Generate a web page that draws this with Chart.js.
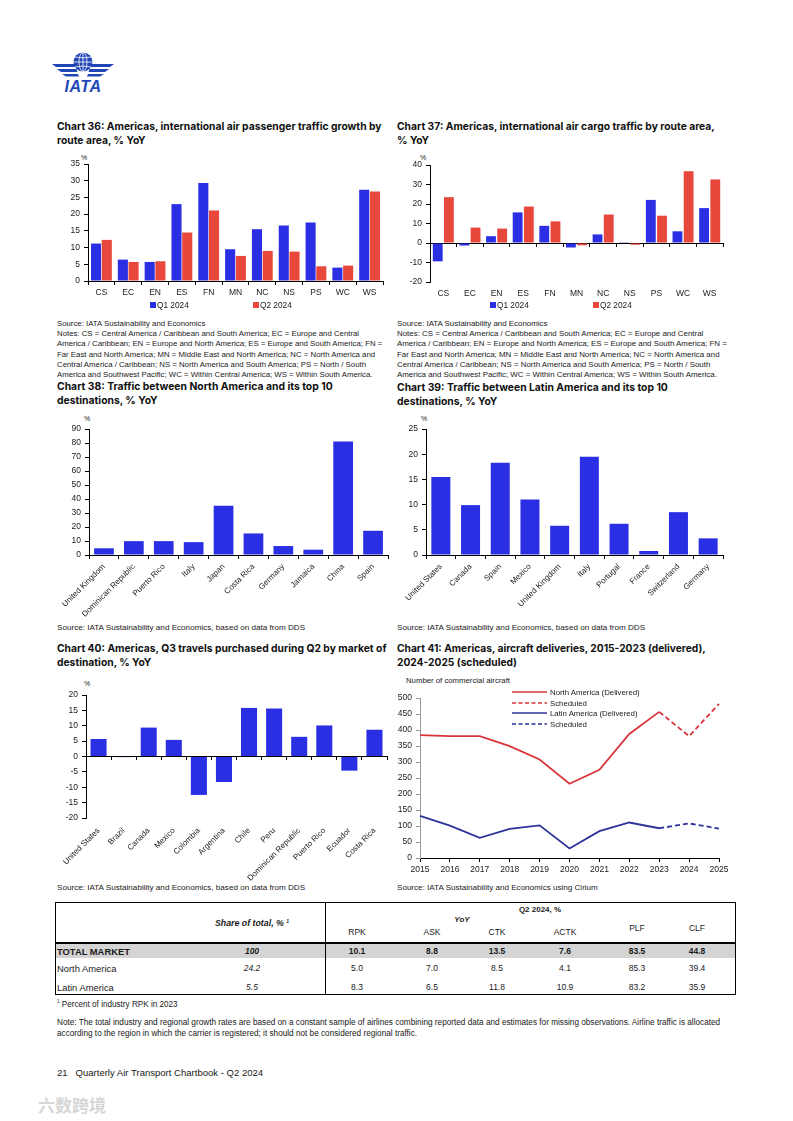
<!DOCTYPE html>
<html>
<head>
<meta charset="utf-8">
<script src="https://cdn.jsdelivr.net/npm/chart.js@4.4.1/dist/chart.umd.min.js"></script>
<style>
  body { margin:0; width:793px; height:1121px; background:#fff; position:relative; overflow:hidden;
         font-family:"Liberation Sans", Arial, sans-serif; color:#1a1a1a; }
  .abs { position:absolute; white-space:nowrap; }
  .title { font-family:Inter, "Liberation Sans", sans-serif; font-weight:700; font-size:10px; color:#111; }
  .note { font-size:7.2px; }
  canvas { position:absolute; }
  .cell { position:absolute; white-space:nowrap; font-size:8px; transform:translate(-50%,-50%); }
  .lcell { position:absolute; white-space:nowrap; font-size:8px; transform:translateY(-50%); }
</style>
</head>
<body>

<svg class="abs" style="left:50px;top:51px" width="66" height="44" viewBox="0 0 66 44">
  <g fill="#2146b5">
    <circle cx="33" cy="11" r="9.5"/>
    <path d="M2 13 L25 13 L26 16 L6 16 Z"/>
    <path d="M7 18 L26.5 18 L27.5 21 L11 21 Z"/>
    <path d="M12 23 L28 23 L29 25.5 L16 25.5 Z"/>
    <path d="M64 13 L41 13 L40 16 L60 16 Z"/>
    <path d="M59 18 L39.5 18 L38.5 21 L55 21 Z"/>
    <path d="M54 23 L38 23 L37 25.5 L50 25.5 Z"/>
    <text x="33" y="41" text-anchor="middle" font-family="Liberation Sans, Arial" font-weight="700"
          font-style="italic" font-size="16" letter-spacing="0.5">IATA</text>
  </g>
  <g fill="none" stroke="#fff" stroke-width="0.8">
    <ellipse cx="33" cy="11" rx="4" ry="9.5"/>
    <line x1="33" y1="1.5" x2="33" y2="20.5"/>
    <line x1="23.5" y1="11" x2="42.5" y2="11"/>
    <path d="M25 6 Q33 8 41 6"/>
    <path d="M25 16 Q33 14 41 16"/>
  </g>
</svg>

<script>
// ---- data ----
const routeAreas = ['CS','EC','EN','ES','FN','MN','NC','NS','PS','WC','WS'];
const quarterNames = ['Q1 2024','Q2 2024'];
const paxQ1 = [11.2, 6.4, 5.7, 23.0, 29.3, 9.5, 15.5, 16.6, 17.5, 4.0, 27.3];
const paxQ2 = [12.3, 5.7, 5.9, 14.5, 21.1, 7.5, 9.0, 8.8, 4.4, 4.6, 26.8];
const cargoQ1 = [-9.4, -1.3, 3.5, 15.7, 8.8, -2.3, 4.4, 0.4, 22.1, 6.0, 17.9];
const cargoQ2 = [23.5, 7.9, 7.4, 18.7, 11.1, -1.2, 14.6, -0.9, 14.0, 36.8, 32.6];

const naDest = ['United Kingdom','Dominican Republic','Puerto Rico','Italy','Japan','Costa Rica','Germany','Jamaica','China','Spain'];
const naDestYoY = [4.8, 9.9, 9.9, 9.2, 35.2, 15.4, 6.4, 3.8, 81.0, 17.3];

const latDest = ['United States','Canada','Spain','Mexico','United Kingdom','Italy','Portugal','France','Switzerland','Germany'];
const latDestYoY = [15.5, 9.9, 18.3, 11.0, 5.8, 19.5, 6.2, 0.8, 8.5, 3.3];

const q3Markets = ['United States','Brazil','Canada','Mexico','Colombia','Argentina','Chile','Peru','Dominican Republic','Puerto Rico','Ecuador','Costa Rica'];
const q3YoY = [5.7, -0.2, 9.4, 5.4, -12.5, -8.3, 15.8, 15.6, 6.4, 10.1, -4.6, 8.7];

const years = ['2015','2016','2017','2018','2019','2020','2021','2022','2023','2024','2025'];
const naDelivered = [384, 381, 381, 350, 308, 232, 276, 388, 457, null, null];
const naScheduled = [null, null, null, null, null, null, null, null, 457, 381, 482];
const laDelivered = [132, 101, 63, 91, 102, 30, 84, 111, 93, null, null];
const laScheduled = [null, null, null, null, null, null, null, null, 93, 108, 92];
const deliveryLegend = ['North America (Delivered)','Scheduled','Latin America (Delivered)','Scheduled'];

const tableCols = ['RPK','ASK','CTK','ACTK','PLF','CLF'];
const tableRegions = ['TOTAL MARKET','North America','Latin America'];
const tableShare = ['100','24.2','5.5'];
const tableValues = [
  [10.1, 8.8, 13.5, 7.6, 83.5, 44.8],
  [5.0, 7.0, 8.5, 4.1, 85.3, 39.4],
  [8.3, 6.5, 11.8, 10.9, 83.2, 35.9]
];

const BLUE = '#2b2fe3', RED = '#e8473b';
const LINE_RED = '#d8343a', LINE_BLUE = '#2c3399';
const INK = '#1a1a1a';
const TICK = {family:'Liberation Sans, Arial, sans-serif', size:8.5};

// ---- text helpers ----
function block(x, yc, lines, cls, lh, fitW) {
  const d = document.createElement('div');
  d.className = 'abs ' + cls;
  d.style.left = x + 'px';
  d.style.top = (yc - lh / 2) + 'px';
  d.style.lineHeight = lh + 'px';
  lines.forEach(l => { const s = document.createElement('div'); s.innerHTML = l; d.appendChild(s); });
  document.body.appendChild(d);
  if (fitW) {
    const fs = parseFloat(getComputedStyle(d).fontSize);
    let w = 0;
    d.querySelectorAll('div').forEach(s => {
      s.style.display = 'inline-block';
      w = Math.max(w, s.getBoundingClientRect().width);
      s.style.display = 'block';
    });
    d.style.fontSize = (fs * fitW / w) + 'px';
  }
  return d;
}

function cell(x, y, html, style, cls) {
  const d = document.createElement('div');
  d.className = cls || 'cell';
  d.style.left = x + 'px'; d.style.top = y + 'px';
  if (style) d.style.cssText += style;
  d.innerHTML = html;
  document.body.appendChild(d);
  return d;
}

function box(l, t, w, h, style) {
  const d = document.createElement('div');
  d.style.cssText = 'position:absolute;left:' + l + 'px;top:' + t + 'px;width:' + w + 'px;height:' + h + 'px;' + style;
  document.body.appendChild(d);
}

// ---- chart helpers ----
function place(b) {
  const c = document.createElement('canvas');
  const w = b.r - b.l + b.yW + b.padR, h = b.b - b.t + b.padT + b.xH;
  c.width = w; c.height = h;
  Object.assign(c.style, {left:(b.l - b.yW) + 'px', top:(b.t - b.padT) + 'px', width:w + 'px', height:h + 'px'});
  document.body.appendChild(c);
  return c;
}

function yScale(b, min, max, step, axisColor) {
  const col = axisColor || '#000';
  return {type:'linear', min:min, max:max,
    ticks:{stepSize:step, font:TICK, color:INK, padding:4},
    grid:{display:true, drawOnChartArea:false, drawTicks:true, tickLength:4, color:col},
    border:{display:true, color:col, width:1},
    afterFit(s) { s.width = b.yW; }};
}

function barChart(b, labels, sets, yMin, yMax, step, o) {
  const labelTicks = {font: o.rot ? {family:TICK.family, size:8} : TICK, color:INK, autoSkip:false,
    maxRotation:o.rot || 0, minRotation:o.rot || 0, padding:o.pad};
  const scales = {};
  if (o.zeroAxis) {
    scales.x = {type:'category', offset:true, position:{y:0}, ticks:{display:false},
      grid:{offset:true, drawOnChartArea:false, tickLength:3, color:'#000'}, border:{display:true, color:'#000'}};
    scales.x2 = {type:'category', labels:labels, offset:true, position:'bottom', ticks:labelTicks,
      grid:{display:false, drawTicks:false}, border:{display:false}, afterFit(s) { s.height = b.xH; }};
  } else {
    scales.x = {type:'category', offset:true, ticks:labelTicks,
      grid:{offset:true, drawOnChartArea:false, tickLength:4, color:'#000'}, border:{display:true, color:'#000'},
      afterFit(s) { s.height = b.xH; }};
  }
  scales.y = yScale(b, yMin, yMax, step);
  return new Chart(place(b), {
    type:'bar',
    data:{labels:labels, datasets:sets.map(s => ({label:s.label, data:s.data, backgroundColor:s.color, borderWidth:0,
      categoryPercentage:o.cat, barPercentage:o.bar}))},
    options:{responsive:false, animation:false, events:[],
      layout:{padding:{top:b.padT, right:b.padR, left:0, bottom:0}},
      plugins:{legend:{display:false}, tooltip:{enabled:false}},
      scales:scales}
  });
}

function squareLegend(items, y) {
  items.forEach(it => {
    box(it.x, y - 3, 6, 6, 'background:' + it.color);
    cell(it.x + 7, y, it.label, 'font-size:8.3px', 'lcell');
  });
}

// ---- titles & notes ----
const notesLines = [
  'Source: IATA Sustainability and Economics',
  'Notes: CS = Central America / Caribbean and South America; EC = Europe and Central',
  'America / Caribbean; EN = Europe and North America; ES = Europe and South America; FN =',
  'Far East and North America; MN = Middle East and North America; NC = North America and',
  'Central America / Caribbean; NS = North America and South America; PS = North / South',
  'America and Southwest Pacific; WC = Within Central America; WS = Within South America.'
];

block(57, 127, ['Chart 36: Americas, international air passenger traffic growth by', 'route area, % YoY'], 'title', 13.5, 325);
block(397, 127, ['Chart 37: Americas, international air cargo traffic by route area,', '% YoY'], 'title', 13.5, 318);
block(57, 387, ['Chart 38: Traffic between North America and its top 10', 'destinations, % YoY'], 'title', 14.5, 276);
block(397, 387, ['Chart 39: Traffic between Latin America and its top 10', 'destinations, % YoY'], 'title', 14.5, 271);
block(57, 648, ['Chart 40: Americas, Q3 travels purchased during Q2 by market of', 'destination, % YoY'], 'title', 14.5, 330);
block(397, 648, ['Chart 41: Americas, aircraft deliveries, 2015-2023 (delivered),', '2024-2025 (scheduled)'], 'title', 14.5, 309);

block(57, 324, notesLines, 'note', 10.3, 325);
block(397, 324, notesLines, 'note', 10.3, 330);
block(57, 628, ['Source: IATA Sustainability and Economics, based on data from DDS'], 'note', 10, 248);
block(397, 628, ['Source: IATA Sustainability and Economics, based on data from DDS'], 'note', 10, 248);
block(57, 888, ['Source: IATA Sustainability and Economics, based on data from DDS'], 'note', 10, 248);
block(397, 888, ['Source: IATA Sustainability and Economics using Cirium'], 'note', 10, 201);

cell(84, 157, '%', 'font-size:7px');
cell(423, 157, '%', 'font-size:7px');
cell(87, 418, '%', 'font-size:7px');
cell(424, 418, '%', 'font-size:7px');
cell(87, 683, '%', 'font-size:7px');
block(406, 681, ['Number of commercial aircraft'], 'note', 10, 104);

// ---- Chart 36 ----
barChart({l:88, t:164, r:383, b:281, yW:36, padT:10, padR:8, xH:20}, routeAreas,
  [{label:quarterNames[0], data:paxQ1, color:BLUE}, {label:quarterNames[1], data:paxQ2, color:RED}],
  0, 35, 5, {cat:0.8, bar:0.94, pad:3});
squareLegend([{x:150, label:quarterNames[0], color:BLUE}, {x:253, label:quarterNames[1], color:RED}], 305);

// ---- Chart 37 ----
barChart({l:430, t:165, r:723, b:282, yW:36, padT:10, padR:8, xH:20}, routeAreas,
  [{label:quarterNames[0], data:cargoQ1, color:BLUE}, {label:quarterNames[1], data:cargoQ2, color:RED}],
  -20, 40, 10, {cat:0.84, bar:0.88, pad:7, zeroAxis:true});
squareLegend([{x:490, label:quarterNames[0], color:BLUE}, {x:593, label:quarterNames[1], color:RED}], 305);

// ---- Chart 38 ----
barChart({l:89, t:429, r:388, b:555, yW:36, padT:10, padR:6, xH:68}, naDest,
  [{label:'YoY', data:naDestYoY, color:BLUE}], 0, 90, 10, {cat:0.66, bar:1, pad:3, rot:45});

// ---- Chart 39 ----
barChart({l:426, t:429, r:723, b:555, yW:36, padT:10, padR:8, xH:68}, latDest,
  [{label:'YoY', data:latDestYoY, color:BLUE}], 0, 25, 5, {cat:0.64, bar:1, pad:3, rot:45});

// ---- Chart 40 ----
barChart({l:86, t:695, r:387, b:818, yW:36, padT:10, padR:6, xH:70}, q3Markets,
  [{label:'YoY', data:q3YoY, color:BLUE}], -20, 20, 5, {cat:0.64, bar:1, pad:8, rot:45, zeroAxis:true});

// ---- Chart 41 ----
(function () {
  const b = {l:420, t:697, r:719, b:858, yW:30, padT:8, padR:14, xH:18};
  const ds = (data, color, dash) => ({data:data, borderColor:color, backgroundColor:color, borderWidth:1.8,
    borderDash:dash || [], pointRadius:0, tension:0, spanGaps:false});
  new Chart(place(b), {
    type:'line',
    data:{labels:years, datasets:[
      ds(naDelivered, LINE_RED), ds(naScheduled, LINE_RED, [5, 3]),
      ds(laDelivered, LINE_BLUE), ds(laScheduled, LINE_BLUE, [5, 3])
    ]},
    options:{responsive:false, animation:false, events:[],
      layout:{padding:{top:b.padT, right:b.padR, left:0, bottom:0}},
      plugins:{legend:{display:false}, tooltip:{enabled:false}},
      scales:{
        x:{type:'category', offset:false, ticks:{font:TICK, color:INK, padding:3, autoSkip:false, maxRotation:0},
          grid:{drawOnChartArea:false, tickLength:4, color:'#000'}, border:{display:true, color:'#000'},
          afterFit(s) { s.height = b.xH; }},
        y:yScale(b, 0, 500, 50, '#9a9a9a')
      }}
  });
  const colors = [LINE_RED, LINE_RED, LINE_BLUE, LINE_BLUE];
  const rows = [692, 702.5, 713, 723.5];
  deliveryLegend.forEach((lab, i) => {
    const dash = i % 2 === 1 ? 'stroke-dasharray="4 2.5"' : '';
    const s = document.createElementNS('http://www.w3.org/2000/svg', 'svg');
    s.setAttribute('width', '36'); s.setAttribute('height', '4');
    s.style.cssText = 'position:absolute;left:512px;top:' + (rows[i] - 2) + 'px';
    s.innerHTML = '<line x1="0" y1="2" x2="35" y2="2" stroke="' + colors[i] + '" stroke-width="1.6" ' + dash + '/>';
    document.body.appendChild(s);
    cell(550, rows[i], lab, 'font-size:7.8px', 'lcell');
  });
})();

// ---- table ----
box(55, 902, 681, 93, 'border:1.5px solid #000;box-sizing:border-box');
box(56, 943, 679, 15, 'background:#d4d4d4');
box(55, 942, 681, 1.5, 'background:#000');
box(324.5, 902, 1.5, 93, 'background:#000');

cell(252, 923, 'Share of total, % <sup style="font-size:5px">1</sup>', 'font-weight:700;font-style:italic;font-size:8.8px');
cell(540, 909, 'Q2 2024, %', 'font-weight:700');
cell(462, 919, 'YoY', 'font-weight:700;font-style:italic');
const colX = [357, 432, 497, 565, 637, 697];
const colHeadY = [932, 932, 932, 932, 928, 928];
tableCols.forEach((c, i) => cell(colX[i], colHeadY[i], c, 'font-size:8.5px'));
const rowY = [950.5, 968, 986.5];
tableRegions.forEach((r, ri) => {
  const bold = ri === 0 ? 'font-weight:700;' : '';
  cell(57, rowY[ri], r, bold + 'font-size:9.4px', 'lcell');
  cell(252, rowY[ri], tableShare[ri], bold + 'font-style:italic;font-size:8.5px');
  tableValues[ri].forEach((v, ci) => cell(colX[ci], rowY[ri], v.toFixed(1), bold + 'font-size:8.5px'));
});

block(57, 1001, ['<sup style="font-size:4.5px">1</sup> Percent of industry RPK in 2023'], 'note', 9, 121);
block(57, 1023.5, [
  'Note: The total industry and regional growth rates are based on a constant sample of airlines combining reported data and estimates for missing observations. Airline traffic is allocated',
  'according to the region in which the carrier is registered; it should not be considered regional traffic.'
], 'note', 10.8, 663);
block(57, 1073, ['21&nbsp;&nbsp; Quarterly Air Transport Chartbook - Q2 2024'], 'note', 12, 206);
block(38, 1105, ['六数跨境'], 'note', 18, 66).style.cssText += ';color:#d6d6d6;font-family:"Noto Sans CJK SC";font-weight:700';
</script>
</body>
</html>
